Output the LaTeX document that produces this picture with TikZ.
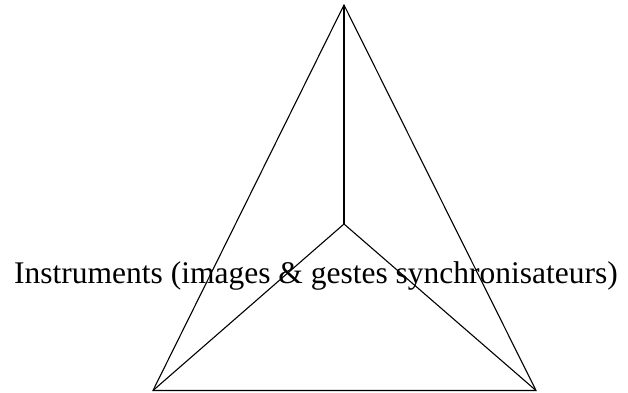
\documentclass[tikz,border=0pt]{standalone}
\usepackage{fontspec}
\setmainfont{Liberation Serif}
\begin{document}
\begin{tikzpicture}[x=1pt,y=1pt,edge/.style={draw=black,line width=1.1pt,line join=miter}]
\useasboundingbox (0,0) rectangle (628,392);
\coordinate (A) at (344,387);
\coordinate (L) at (153,1.5);
\coordinate (R) at (536,1.5);
\coordinate (C) at (344,168);
\draw[edge] (A) -- (L) -- (R) -- cycle;
\draw[edge] (C) -- (A);
\draw[edge] (C) -- (L);
\draw[edge] (C) -- (R);
\node[anchor=base west,inner sep=0pt,font=\fontsize{31.5}{36}\selectfont] (T) at (14,109) {Instruments (images \& gestes synchronisateurs)};
\end{tikzpicture}
\end{document}
